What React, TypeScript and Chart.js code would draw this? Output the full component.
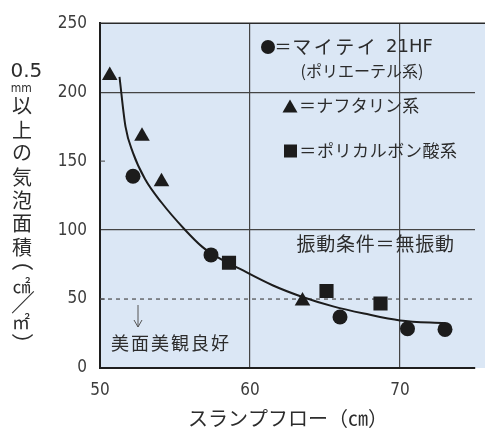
import React, { useEffect, useRef } from "react";
import { Chart, registerables } from "chart.js";

Chart.register(...registerables);

// ---- data ----
const circleX = [52.2, 57.4, 66.0, 70.5, 73.0];
const circleY = [139, 82, 37, 28.5, 28];
const triangleX = [50.65, 52.8, 54.1, 63.5];
const triangleY = [212, 168, 135, 48.5];
const squareX = [58.6, 65.1, 68.7];
const squareY = [76.3, 55.8, 46.8];
const curveX = [51.3, 51.7, 52.2, 53.0, 54.1, 55.6, 56.8, 57.8, 59.3, 61.5, 63.5, 65.6, 67.6, 70.0, 73.0];
const curveY = [211, 175, 156, 137, 120, 101, 88, 80.5, 72, 60, 51.5, 44.5, 39.5, 34.5, 32.5];
const thresholdX = [50, 75];
const thresholdY = [50, 50];
const xTicks = [50, 60, 70];
const yTicks = [0, 50, 100, 150, 200, 250];
const xGridValues = [60, 70];
const yGridValues = [100, 200];
const yInnerTicks = [150, 50];

const legendCircleEq = "＝";
const legendCircle = "マイテイ";
const legendCircleCode = "21HF";
const legendCircleSub = "(ポリエーテル系)";
const legendTriangle = "＝ナフタリン系";
const legendSquare = "＝ポリカルボン酸系";
const conditionText = "振動条件＝無振動";
const goodText = "美面美観良好";
const xTitle = "スランプフロー（㎝）";
const yTitleKanji = ["以", "上", "の", "気", "泡", "面", "積"];

const CJK = '"Noto Sans CJK JP", sans-serif';
const NUM = '"DejaVu Sans Condensed", "DejaVu Sans", sans-serif';
const INK = "#1c1c1c";
const TXT = "#2c2c2c";

const pts = (xs: number[], ys: number[]) => xs.map((x, i) => ({ x, y: ys[i] }));

function spaced(ctx: CanvasRenderingContext2D, text: string, x: number, y: number, pitch: number) {
  const chars = Array.from(text);
  ctx.textAlign = "center";
  chars.forEach((c, i) => ctx.fillText(c, x + pitch * i + pitch / 2, y));
}

// draw a glyph with its ink box centred on (cx, cy), optionally rotated
function glyph(ctx: CanvasRenderingContext2D, ch: string, cx: number, cy: number, font: string, angle = 0) {
  ctx.save();
  ctx.font = font;
  ctx.textAlign = "left";
  ctx.textBaseline = "alphabetic";
  const m = ctx.measureText(ch);
  const gx = (m.actualBoundingBoxRight - m.actualBoundingBoxLeft) / 2;
  const gy = (m.actualBoundingBoxDescent - m.actualBoundingBoxAscent) / 2;
  ctx.translate(cx, cy);
  ctx.rotate(angle);
  ctx.fillText(ch, -gx, -gy);
  ctx.restore();
}

const decor = {
  id: "decor",
  beforeDraw(chart: any) {
    const { ctx, chartArea: a } = chart;
    ctx.save();
    ctx.fillStyle = "#dbe7f5";
    ctx.fillRect(a.left, a.top, 485 - a.left, a.bottom - a.top);
    ctx.restore();
  },
  afterDraw(chart: any) {
    const { ctx, chartArea: a, scales } = chart;
    const ys = scales.y;
    ctx.save();
    // top frame
    ctx.strokeStyle = "#2a2a2a";
    ctx.lineWidth = 1.6;
    ctx.beginPath();
    ctx.moveTo(a.left, a.top);
    ctx.lineTo(485, a.top);
    ctx.stroke();
    // small inner ticks
    ctx.lineWidth = 1;
    ctx.strokeStyle = "#444";
    yInnerTicks.forEach((v) => {
      const py = ys.getPixelForValue(v);
      ctx.beginPath();
      ctx.moveTo(a.left, py);
      ctx.lineTo(a.left + 5, py);
      ctx.stroke();
    });

    ctx.textBaseline = "middle";

    // legend markers
    ctx.fillStyle = INK;
    ctx.beginPath();
    ctx.arc(268, 47, 7, 0, Math.PI * 2);
    ctx.fill();
    ctx.beginPath();
    ctx.moveTo(290, 99.5);
    ctx.lineTo(297.5, 112.5);
    ctx.lineTo(282.5, 112.5);
    ctx.closePath();
    ctx.fill();
    ctx.fillRect(284, 144.5, 13, 13);

    // legend texts
    ctx.fillStyle = TXT;
    ctx.font = `17px ${CJK}`;
    ctx.textAlign = "center";
    ctx.fillText(legendCircleEq, 283, 47);
    ctx.font = `19px ${CJK}`;
    spaced(ctx, legendCircle, 291, 47, 21.5);
    ctx.font = `18px "DejaVu Sans", sans-serif`;
    ctx.textAlign = "left";
    ctx.fillText(legendCircleCode, 386, 47);
    ctx.font = `16px ${CJK}`;
    ctx.textAlign = "center";
    ctx.fillText(legendCircleSub, 362, 71);
    ctx.font = `17px ${CJK}`;
    spaced(ctx, legendTriangle, 299, 106, 17.2);
    spaced(ctx, legendSquare, 299, 151, 17.6);

    ctx.font = `19px ${CJK}`;
    spaced(ctx, conditionText, 296, 244, 19.8);
    ctx.font = `18px ${CJK}`;
    spaced(ctx, goodText, 110, 343, 20);

    // arrow
    ctx.strokeStyle = "#555";
    ctx.lineWidth = 1;
    ctx.beginPath();
    ctx.moveTo(138, 305);
    ctx.lineTo(138, 327);
    ctx.moveTo(134, 320);
    ctx.lineTo(138, 327);
    ctx.lineTo(142, 320);
    ctx.stroke();

    // x title
    ctx.font = `20px ${CJK}`;
    ctx.textAlign = "center";
    ctx.textBaseline = "middle";
    ctx.fillText(xTitle, 288, 418);

    // y title (vertical, upright characters)
    glyph(ctx, "0.5", 26, 70, `20px "DejaVu Sans", sans-serif`);
    glyph(ctx, "mm", 21, 88.5, `12px ${NUM}`);
    yTitleKanji.forEach((c, i) => glyph(ctx, c, 22, 106 + i * 23.5, `20px ${CJK}`));
    glyph(ctx, "（", 22, 267, `22px ${CJK}`, Math.PI / 2);
    glyph(ctx, "㎠", 22, 285, `18px ${CJK}`);
    glyph(ctx, "／", 23, 302, `24px ${CJK}`);
    glyph(ctx, "㎡", 22, 321, `18px ${CJK}`);
    glyph(ctx, "）", 22, 337, `22px ${CJK}`, Math.PI / 2);
    ctx.restore();
  },
};

export default function App() {
  const ref = useRef<HTMLCanvasElement | null>(null);

  useEffect(() => {
    if (!ref.current) return;
    const chart = new Chart(ref.current, {
      type: "scatter",
      data: {
        datasets: [
          {
            data: pts(circleX, circleY),
            pointStyle: "circle",
            pointRadius: 7.5,
            backgroundColor: INK,
            borderWidth: 0,
          },
          {
            data: pts(triangleX, triangleY),
            pointStyle: "triangle",
            pointRadius: 9,
            backgroundColor: INK,
            borderWidth: 0,
          },
          {
            data: pts(squareX, squareY),
            pointStyle: "rect",
            pointRadius: 10,
            backgroundColor: INK,
            borderWidth: 0,
          },
          {
            data: pts(curveX, curveY),
            showLine: true,
            pointRadius: 0,
            borderColor: INK,
            borderWidth: 2,
            cubicInterpolationMode: "monotone",
          } as any,
          {
            data: pts(thresholdX, thresholdY),
            showLine: true,
            pointRadius: 0,
            borderColor: "#4a4a4a",
            borderWidth: 1.2,
            borderDash: [4, 4],
          } as any,
        ],
      },
      options: {
        responsive: false,
        animation: false,
        events: [],
        layout: { padding: { top: 21, right: 1, left: 0, bottom: 0 } },
        plugins: { legend: { display: false }, tooltip: { enabled: false } },
        scales: {
          x: {
            type: "linear",
            min: 50,
            max: 75,
            afterBuildTicks: (s: any) => {
              s.ticks = xTicks.map((v) => ({ value: v }));
            },
            afterFit: (s: any) => {
              s.height = 62;
            },
            ticks: {
              padding: 12,
              color: "#3c3c3c",
              font: { family: NUM, size: 17 },
              maxRotation: 0,
              autoSkip: false,
            },
            grid: {
              drawTicks: false,
              lineWidth: 1.2,
              color: (c: any) => (xGridValues.includes(c.tick?.value) ? "#444444" : "rgba(0,0,0,0)"),
            },
            border: { display: true, color: "#1e1e1e", width: 2 },
          },
          y: {
            type: "linear",
            min: 0,
            max: 250,
            afterBuildTicks: (s: any) => {
              s.ticks = yTicks.map((v) => ({ value: v }));
            },
            afterFit: (s: any) => {
              s.width = 100;
            },
            ticks: {
              padding: 13,
              color: "#3c3c3c",
              font: { family: NUM, size: 17 },
              autoSkip: false,
            },
            grid: {
              drawTicks: false,
              lineWidth: 1.2,
              color: (c: any) => (yGridValues.includes(c.tick?.value) ? "#444444" : "rgba(0,0,0,0)"),
            },
            border: { display: true, color: "#1e1e1e", width: 2 },
          },
        },
      },
      plugins: [decor],
    });
    return () => chart.destroy();
  }, []);

  return (
    <div style={{ position: "fixed", left: 0, top: 0, width: 485, height: 430, background: "#fff" }}>
      <canvas ref={ref} width={485} height={430} style={{ width: 485, height: 430, display: "block" }} />
    </div>
  );
}
